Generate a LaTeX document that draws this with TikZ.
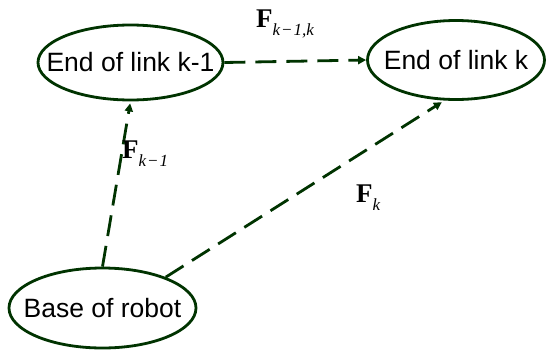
\documentclass[tikz,border=0pt]{standalone}
\usepackage{fontspec}
\setmainfont{Liberation Sans}
\newfontfamily\tms{Liberation Serif}
\usetikzlibrary{shapes.geometric,arrows.meta}
\definecolor{dkgreen}{RGB}{0,51,0}
\tikzset{
  blob/.style={ellipse,draw=dkgreen,line width=2.8pt,inner sep=0pt,
    font=\fontsize{26.5}{26.5}\selectfont,text=black},
  conn/.style={draw=dkgreen,line width=2.8pt,dash pattern=on 21pt off 10pt,
    -{Triangle[length=8pt,width=8pt]}},
  flabel/.style={inner sep=0pt,anchor=base west,text=black}
}
\newcommand{\forcelab}[1]{{\tms\fontsize{27}{27}\selectfont\bfseries F\raisebox{-8pt}{\fontsize{17}{17}\selectfont\mdseries\itshape #1}}}
\begin{document}
\begin{tikzpicture}[x=1pt,y=-1pt]
\useasboundingbox (0,0) rectangle (546,351);
\node[blob,minimum width=185pt,minimum height=75pt] (k1) at (130.5,62.5) {\makebox[0pt]{End of link k-1}};
\node[blob,minimum width=177pt,minimum height=79pt] (k) at (456,60) {\makebox[0pt]{End of link k}};
\node[blob,minimum width=187pt,minimum height=80pt] (base) at (102.5,308) {\makebox[0pt]{Base of robot}};
\draw[conn] (k1.east) -- (k.west);
\draw[conn,shorten >=2pt] (base.north) -- (k1.south);
\draw[conn,shorten >=3pt] (base.26) -- (k.254);
\node[flabel] (l1) at (256,27) {\forcelab{k\kern1pt−\kern1pt1,k}};
\node[flabel] (l2) at (122,158) {\forcelab{k\kern1pt−\kern1pt1}};
\node[flabel] (l3) at (356,202) {\forcelab{k}};
\end{tikzpicture}
\end{document}
